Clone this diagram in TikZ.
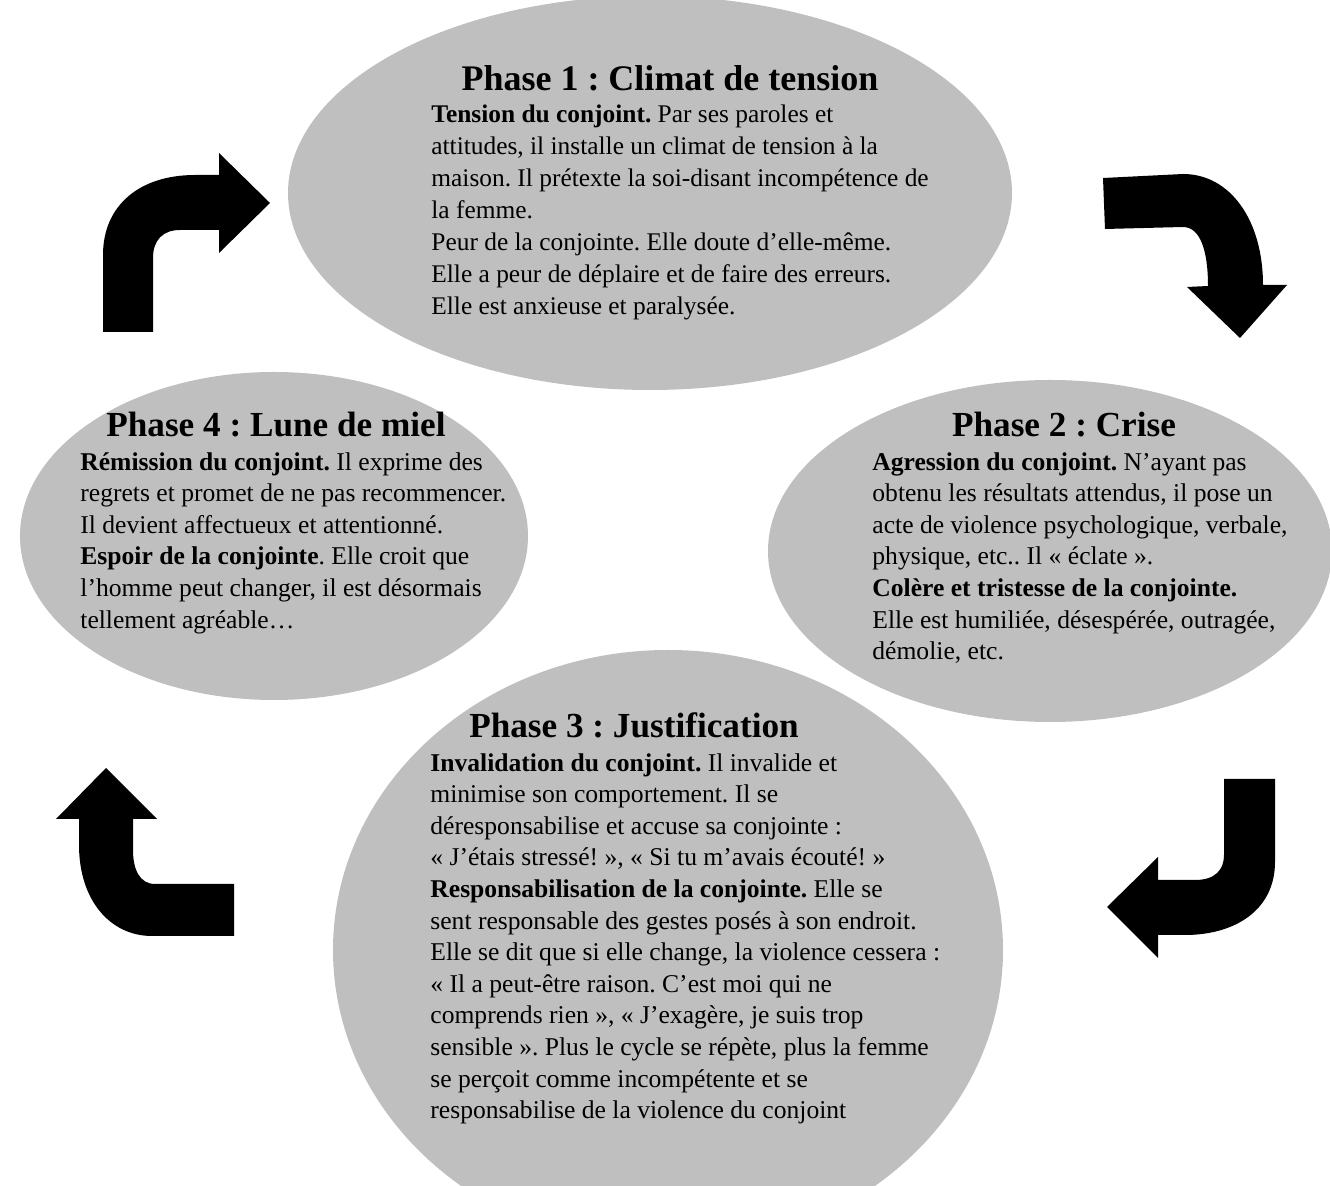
\documentclass[tikz,border=0pt]{standalone}
\usepackage{fontspec}
\setmainfont{Liberation Serif}
\usetikzlibrary{shapes.geometric}
\definecolor{phasegray}{HTML}{BFBFBF}
\frenchspacing

\begin{document}
\begin{tikzpicture}[
  x=0.5pt, y=-0.5pt,
  phase/.style={ellipse, fill=phasegray, inner sep=0pt, outer sep=0pt},
  title/.style={font=\fontsize{17.6}{20}\selectfont\bfseries, inner sep=0pt},
  body/.style={font=\fontsize{12.8}{15.8}\selectfont, align=left, anchor=north west, inner sep=0pt},
  bentarrow/.style={fill=black},
]
\useasboundingbox (0,0) rectangle (1330,1186);
\clip (0,0) rectangle (1330,1186);

% Phases
\node[phase, minimum width=362pt, minimum height=197pt] (ph1) at (650, 193) {};
\node[phase, minimum width=254pt, minimum height=164pt] (ph4) at (274, 536) {};
\node[phase, minimum width=282pt, minimum height=171pt] (ph2) at (1050, 551) {};
\node[phase, minimum width=335pt, minimum height=300pt] (ph3) at (668, 950) {};

% Titles
\node[title, font=\fontsize{18}{20}\selectfont\bfseries] (t1) at (670, 78) {Phase 1 : Climat de tension};
\node[title] (t4) at (276, 425) {Phase 4 : Lune de miel};
\node[title] (t2) at (1064, 425) {Phase 2 : Crise};
\node[title] (t3) at (634, 725) {Phase 3 : Justification};

% Texts
\node[body, font=\fontsize{12.7}{16}\selectfont] (b1) at (431, 104) {\textbf{Tension du conjoint.} Par ses paroles et\\
attitudes, il installe un climat de tension à la\\
maison. Il prétexte la soi-disant incompétence de\\
la femme.\\
Peur de la conjointe. Elle doute d’elle-même.\\
Elle a peur de déplaire et de faire des erreurs.\\
Elle est anxieuse et paralysée.};
\node[body] (b4) at (80, 452) {\textbf{Rémission du conjoint.} Il exprime des\\
regrets et promet de ne pas recommencer.\\
Il devient affectueux et attentionné.\\
\textbf{Espoir de la conjointe}. Elle croit que\\
l’homme peut changer, il est désormais\\
tellement agréable…};
\node[body] (b2) at (872, 452) {\textbf{Agression du conjoint.} N’ayant pas\\
obtenu les résultats attendus, il pose un\\
acte de violence psychologique, verbale,\\
physique, etc.. Il « éclate ».\\
\textbf{Colère et tristesse de la conjointe.}\\
Elle est humiliée, désespérée, outragée,\\
démolie, etc.};
\node[body] (b3) at (430, 753) {\textbf{Invalidation du conjoint.} Il invalide et\\
minimise son comportement. Il se\\
déresponsabilise et accuse sa conjointe :\\
« J’étais stressé! », « Si tu m’avais écouté! »\\
\textbf{Responsabilisation de la conjointe.} Elle se\\
sent responsable des gestes posés à son endroit.\\
Elle se dit que si elle change, la violence cessera :\\
« Il a peut-être raison. C’est moi qui ne\\
comprends rien », « J’exagère, je suis trop\\
sensible ». Plus le cycle se répète, plus la femme\\
se perçoit comme incompétente et se\\
responsabilise de la violence du conjoint};

% Bent arrows
\fill[bentarrow] (103,332) -- (103,255) .. controls (103,205) and (140,175) .. (195,175) -- (219,175) -- (219,153) -- (270,203) -- (219,253) -- (219,230) -- (180,230) .. controls (163,230) and (153,240) .. (153,258) -- (153,332) -- cycle;
\fill[bentarrow] (1103,178) -- (1183,174) .. controls (1230,174) and (1263,220) .. (1263,285) -- (1287,285) -- (1240,338) -- (1187,287) -- (1208,286) .. controls (1208,250) and (1200,227) .. (1183,227) -- (1105,229) -- cycle;
\fill[bentarrow] (234,884) -- (155,884) .. controls (140,884) and (133,870) .. (133,850) -- (133,819) -- (157,819) -- (106,768) -- (56,819) -- (79,819) -- (79,845) .. controls (79,900) and (110,936) .. (152,936) -- (234,936) -- cycle;
\fill[bentarrow] (1224,779) -- (1275,779) -- (1275,862) .. controls (1275,910) and (1235,935) .. (1185,935) -- (1158,935) -- (1158,958) -- (1107,907) -- (1158,857) -- (1158,880) -- (1195,880) .. controls (1215,880) and (1224,870) .. (1224,855) -- cycle;

\end{tikzpicture}
\end{document}
